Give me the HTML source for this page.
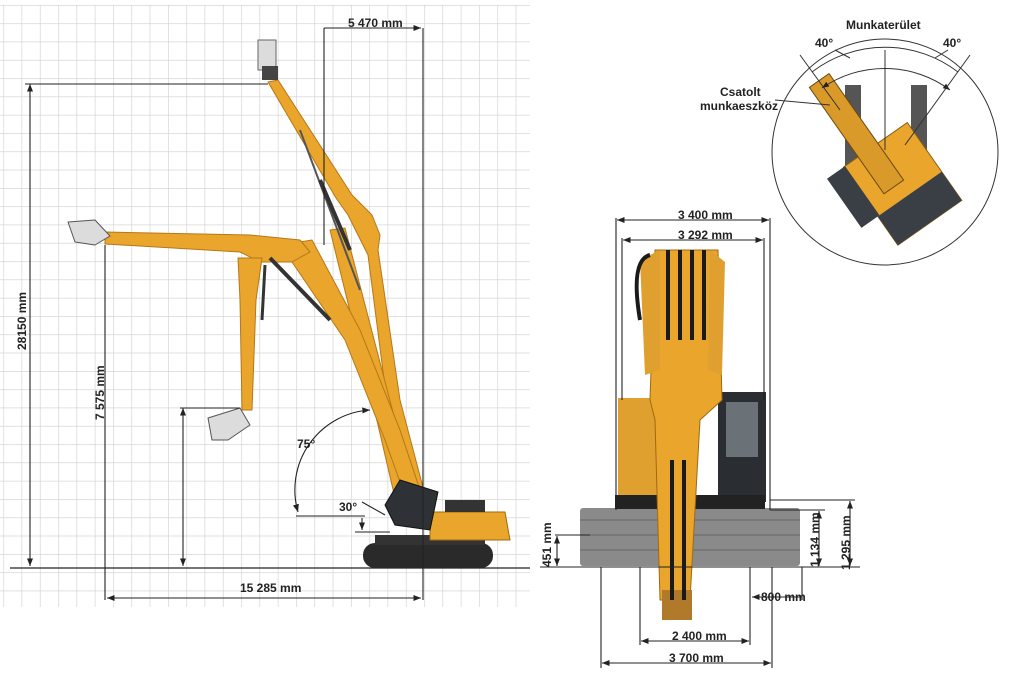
<!DOCTYPE html>
<html><head><meta charset="utf-8"><style>
html,body{margin:0;padding:0;background:#fff;}
svg{display:block;}
text{font-family:"Liberation Sans",sans-serif;font-weight:bold;fill:#222;}
</style></head><body>
<svg width="1024" height="675" viewBox="0 0 1024 675" xmlns="http://www.w3.org/2000/svg">
<defs>
<pattern id="g" x="3.3" y="5" width="18.3" height="18.3" patternUnits="userSpaceOnUse">
<path d="M0 0V18.3M0 0H18.3" stroke="#cfcfcf" stroke-width="1.2" fill="none"/>
</pattern>
<marker id="a" viewBox="0 0 10 10" refX="10" refY="5" markerWidth="7" markerHeight="7" orient="auto-start-reverse"><path d="M0 1L10 5L0 9z" fill="#222"/></marker>
</defs>
<rect x="0" y="5" width="530" height="602" fill="url(#g)"/>
<line x1="10" y1="568" x2="530" y2="568" stroke="#222" stroke-width="1.3"/>

<!-- upper boom config -->
<g stroke-linejoin="round">
<polygon points="268,82 278,80 352,195 372,215 380,235 378,250 400,400 425,495 410,500 388,410 368,255 348,215 336,198" fill="#e9a52c" stroke="#b47818" stroke-width="1"/>
<polygon points="330,230 345,228 395,420 410,495 395,498 378,425" fill="#e9a52c" stroke="#b47818" stroke-width="1"/>
<line x1="300" y1="130" x2="360" y2="290" stroke="#555" stroke-width="2"/>
<line x1="320" y1="180" x2="350" y2="250" stroke="#333" stroke-width="4"/>
<rect x="258" y="40" width="18" height="30" fill="#dcdcdc" stroke="#666"/>
<rect x="262" y="66" width="16" height="14" fill="#444"/>
</g>
<!-- lower config -->
<g stroke-linejoin="round">
<polygon points="300,242 312,240 360,330 400,430 420,490 405,496 385,440 345,340 292,262" fill="#e9a52c" stroke="#b47818" stroke-width="1"/>
<polygon points="105,232 250,235 300,240 310,252 292,262 260,262 240,252 105,244" fill="#e9a52c" stroke="#b47818" stroke-width="1"/>
<polygon points="238,258 262,258 256,300 252,410 242,410 240,300" fill="#e9a52c" stroke="#b47818" stroke-width="1"/>
<line x1="270" y1="258" x2="330" y2="320" stroke="#333" stroke-width="4"/>
<line x1="265" y1="265" x2="262" y2="320" stroke="#333" stroke-width="3"/>
<polygon points="68,222 95,220 110,236 95,245 75,242" fill="#dcdcdc" stroke="#555"/>
<polygon points="208,418 240,408 250,425 228,440 212,440" fill="#dcdcdc" stroke="#555"/>
</g>
<!-- base -->
<rect x="363" y="543" width="130" height="25" rx="12" fill="#2a2a2a"/>
<rect x="375" y="535" width="110" height="10" fill="#333"/>
<polygon points="430,512 505,512 510,540 430,540" fill="#e9a52c" stroke="#a06a10"/>
<rect x="445" y="500" width="40" height="12" fill="#333"/>
<polygon points="385,505 400,480 438,492 430,530 395,525" fill="#2e3236" stroke="#111"/>

<!-- dims left -->
<g stroke="#222" stroke-width="1.1" fill="none">
<line x1="25" y1="84" x2="268" y2="84"/>
<line x1="30" y1="84" x2="30" y2="566" marker-start="url(#a)" marker-end="url(#a)"/>
<line x1="105" y1="245" x2="105" y2="600"/>
<line x1="180" y1="408" x2="240" y2="408"/>
<line x1="183" y1="408" x2="183" y2="566" marker-start="url(#a)" marker-end="url(#a)"/>
<line x1="423" y1="28" x2="423" y2="600"/>
<line x1="324" y1="28" x2="324" y2="245"/>
<line x1="324" y1="28" x2="421" y2="28" marker-end="url(#a)"/>
<line x1="107" y1="598" x2="421" y2="598" marker-start="url(#a)" marker-end="url(#a)"/>
<line x1="296" y1="516" x2="365" y2="516"/>
<line x1="355" y1="532" x2="390" y2="532"/>
<line x1="362" y1="502" x2="385" y2="515"/>
<line x1="362" y1="518" x2="362" y2="530" marker-end="url(#a)"/>
<path d="M370 410 A 80 80 0 0 0 298 512" marker-start="url(#a)" marker-end="url(#a)"/>
</g>
<text x="348" y="27" font-size="12">5 470 mm</text>
<text x="240" y="592" font-size="12">15 285 mm</text>
<text x="297" y="448" font-size="12" font-weight="normal">75°</text>
<text x="339" y="511" font-size="12" font-weight="normal">30°</text>
<text transform="translate(26,350) rotate(-90)" font-size="12">28150 mm</text>
<text transform="translate(104,420) rotate(-90)" font-size="12">7 575 mm</text>

<!-- front view -->
<rect x="580" y="508" width="220" height="58" rx="3" fill="#8a8a8a"/>
<g stroke="#666" stroke-width="1">
<line x1="580" y1="520" x2="800" y2="520"/><line x1="580" y1="535" x2="800" y2="535"/><line x1="580" y1="550" x2="800" y2="550"/>
</g>
<rect x="618" y="398" width="50" height="105" fill="#e0a030"/>
<rect x="718" y="392" width="48" height="110" fill="#2a2e33"/>
<rect x="726" y="402" width="32" height="55" fill="#6a7278"/>
<rect x="615" y="495" width="150" height="14" fill="#222"/>
<polygon points="655,250 718,250 722,400 700,420 690,600 660,600 655,420 650,400" fill="#e9a52c" stroke="#a06a10"/>
<polygon points="640,260 660,250 660,370 645,375" fill="#e0a030"/>
<polygon points="710,250 725,262 722,375 708,370" fill="#e0a030"/>
<rect x="662" y="590" width="30" height="30" fill="#b07a2a"/>
<g stroke="#1a1a1a" stroke-width="4" fill="none">
<path d="M668 250 V340"/><path d="M680 250 V340"/><path d="M692 250 V340"/><path d="M704 250 V340"/>
<path d="M672 460 V600"/><path d="M684 460 V600"/>
<path d="M640 320 Q 630 260 650 255"/>
</g>
<g stroke="#222" stroke-width="1.1" fill="none">
<line x1="616" y1="218" x2="616" y2="510"/><line x1="770" y1="218" x2="770" y2="510"/>
<line x1="622" y1="238" x2="622" y2="400"/><line x1="764" y1="238" x2="764" y2="400"/>
<line x1="617" y1="220" x2="769" y2="220" marker-start="url(#a)" marker-end="url(#a)"/>
<line x1="623" y1="240" x2="763" y2="240" marker-start="url(#a)" marker-end="url(#a)"/>
<line x1="601" y1="567" x2="601" y2="668"/><line x1="772" y1="567" x2="772" y2="668"/>
<line x1="602" y1="663" x2="771" y2="663" marker-start="url(#a)" marker-end="url(#a)"/>
<line x1="640" y1="567" x2="640" y2="645"/><line x1="750" y1="567" x2="750" y2="645"/>
<line x1="641" y1="641" x2="749" y2="641" marker-start="url(#a)" marker-end="url(#a)"/>
<line x1="802" y1="567" x2="802" y2="600"/>
<line x1="752" y1="597" x2="801" y2="597" marker-start="url(#a)"/>
<line x1="540" y1="567" x2="860" y2="567"/>
<line x1="555" y1="535" x2="590" y2="535"/>
<line x1="557" y1="536" x2="557" y2="566" marker-start="url(#a)" marker-end="url(#a)"/>
<line x1="770" y1="500" x2="855" y2="500"/>
<line x1="770" y1="510" x2="825" y2="510"/>
<line x1="819" y1="511" x2="819" y2="566" marker-start="url(#a)" marker-end="url(#a)"/>
<line x1="850" y1="501" x2="850" y2="566" marker-start="url(#a)" marker-end="url(#a)"/>
</g>
<text x="678" y="219" font-size="12">3 400 mm</text>
<text x="678" y="239" font-size="12">3 292 mm</text>
<text x="672" y="640" font-size="12">2 400 mm</text>
<text x="669" y="662" font-size="12">3 700 mm</text>
<text x="761" y="601" font-size="12">800 mm</text>
<text transform="translate(551,567) rotate(-90)" font-size="12">451 mm</text>
<text transform="translate(819,567) rotate(-90)" font-size="12">1 134 mm</text>
<text transform="translate(850,570) rotate(-90)" font-size="12">1 295 mm</text>

<!-- top view circle -->
<circle cx="885" cy="152" r="113" fill="#fff" stroke="#333" stroke-width="1"/>
<rect x="845" y="85" width="16" height="110" fill="#555"/>
<rect x="911" y="85" width="16" height="110" fill="#555"/>
<g transform="rotate(-35 895 180)">
<rect x="860" y="140" width="78" height="95" fill="#e9a52c" stroke="#8a6010"/>
<rect x="860" y="200" width="78" height="35" fill="#3a3f45"/>
<rect x="840" y="140" width="22" height="60" fill="#3a3f45"/>
<rect x="878" y="55" width="24" height="130" fill="#d99a2a" stroke="#6a4a10"/>
</g>
<g stroke="#333" stroke-width="1" fill="none">
<path d="M812 72 A 120 120 0 0 1 958 72"/>
<path d="M822 88 A 110 110 0 0 1 950 90" marker-start="url(#a)" marker-end="url(#a)"/>
<line x1="885" y1="50" x2="885" y2="150"/>
<line x1="800" y1="55" x2="840" y2="110"/>
<line x1="970" y1="55" x2="905" y2="145"/>
<line x1="835" y1="50" x2="850" y2="58"/><line x1="935" y1="58" x2="948" y2="50"/>
<line x1="775" y1="100" x2="830" y2="105"/>
</g>
<text x="846" y="29" font-size="12">Munkaterület</text>
<text x="815" y="47" font-size="12" font-weight="normal">40°</text>
<text x="943" y="47" font-size="12" font-weight="normal">40°</text>
<text x="720" y="96" font-size="12">Csatolt</text>
<text x="700" y="110" font-size="12">munkaeszköz</text>
</svg>
</body></html>
